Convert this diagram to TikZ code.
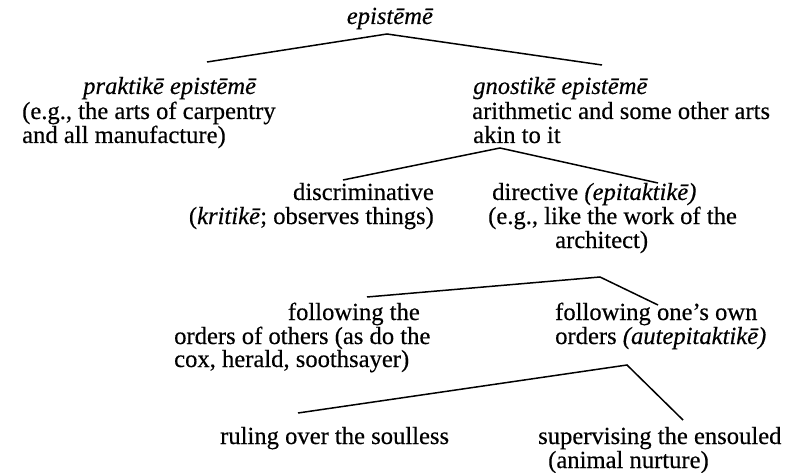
\documentclass[tikz,border=0pt]{standalone}
\usepackage{fontspec}
\setmainfont{Liberation Serif}[UprightFeatures={FakeBold=0.4},ItalicFeatures={FakeBold=0.4}]

\tikzset{
	txt/.style={anchor=base west, inner sep=0pt, font=\fontsize{24.6}{24}\selectfont},
	branch/.style={line width=1.5pt, black}
}

\begin{document}
\begin{tikzpicture}[x=1pt,y=-1pt]
	\useasboundingbox (0,0) rectangle (792,473);

	% root
	\node[txt, anchor=base] (episteme) at (390,24) {\textit{epistēmē}};
	\coordinate (top) at (387,34);
	\coordinate (prak-end) at (207,62);
	\coordinate (gnos-end) at (602,65);
	\draw[branch] (prak-end) -- (top) -- (gnos-end);

	% praktike episteme
	\node[txt] (prak) at (83,94) {\textit{praktikē epistēmē}};
	\node[txt] (prak-l2) at (22,119) {(e.g., the arts of carpentry};
	\node[txt] (prak-l3) at (22,143) {and all manufacture)};

	% gnostike episteme
	\node[txt] (gnos) at (473,94) {\textit{gnostikē epistēmē}};
	\node[txt] (gnos-l2) at (472,119) {arithmetic and some other arts};
	\node[txt] (gnos-l3) at (473,143) {akin to it};
	\coordinate (gnos-top) at (500,148);
	\coordinate (discr-end) at (343,180);
	\coordinate (direc-end) at (658,183);
	\draw[branch] (discr-end) -- (gnos-top) -- (direc-end);

	% discriminative
	\node[txt, anchor=base east] (discr) at (434,200) {discriminative};
	\node[txt, anchor=base east] (discr-l2) at (434,224) {(\textit{kritikē}; observes things)};

	% directive
	\node[txt] (direc) at (492,200) {directive \textit{(epitaktikē)}};
	\node[txt] (direc-l2) at (488,224) {(e.g., like the work of the};
	\node[txt] (direc-l3) at (555,248) {architect)};
	\coordinate (direc-top) at (600,277);
	\coordinate (oth-end) at (367,297);
	\coordinate (own-end) at (658,305);
	\draw[branch] (oth-end) -- (direc-top) -- (own-end);

	% orders of others
	\node[txt, anchor=base east] (oth) at (420,320) {following the};
	\node[txt] (oth-l2) at (174,344) {orders of others (as do the};
	\node[txt] (oth-l3) at (174,367) {cox, herald, soothsayer)};

	% own orders
	\node[txt] (own) at (555,320) {following one's own};
	\node[txt] (own-l2) at (555,344) {orders \textit{(autepitaktikē)}};
	\coordinate (own-top) at (627,365);
	\coordinate (soulless-end) at (298,413);
	\coordinate (ensouled-end) at (683,420);
	\draw[branch] (soulless-end) -- (own-top) -- (ensouled-end);

	% leaves
	\node[txt] (soulless) at (220,444) {ruling over the soulless};
	\node[txt] (ensouled) at (538,444) {supervising the ensouled};
	\node[txt] (ensouled-l2) at (548,468) {(animal nurture)};

\end{tikzpicture}
\end{document}
